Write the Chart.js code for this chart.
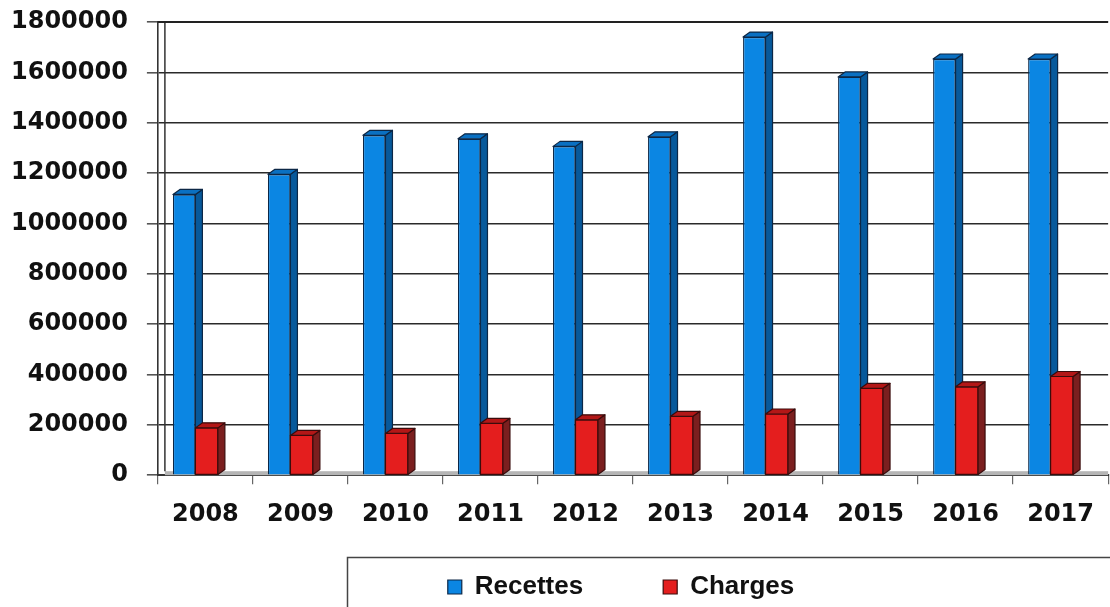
<!DOCTYPE html>
<html>
<head>
<meta charset="utf-8">
<script src="https://cdn.jsdelivr.net/npm/chart.js@4/dist/chart.umd.min.js"></script>
<style>
html,body{margin:0;padding:0;background:#fff;}
#wrap{width:1110px;height:607px;position:relative;}
</style>
</head>
<body>
<div id="wrap"><canvas id="c" width="1110" height="607"></canvas></div>
<script>
// ---- data ----
const categories = ['2008','2009','2010','2011','2012','2013','2014','2015','2016','2017'];
const recettes   = [1115000,1195000,1350000,1336000,1306000,1344000,1740000,1582000,1653000,1653000];
const charges    = [188000,158000,166000,206000,220000,234000,243000,345000,351000,392000];
const yTicks     = [0,200000,400000,600000,800000,1000000,1200000,1400000,1600000,1800000];
const seriesNames = ['Recettes','Charges'];

// ---- styles ----
const BLUE = {front:'#0b86e3', side:'#07599b', top:'#0a70c2', border:'#0c2746'};
const RED  = {front:'#e41e1e', side:'#7b1f1f', top:'#b31717', border:'#3a0c0c'};
const DX = 7, DY = 5, SHIFT_X = -10;
const LEG_PAD = 80;

const wall = {
  id:'wall',
  beforeDatasetsDraw(chart){
    const {ctx, chartArea:a} = chart;
    ctx.save();
    ctx.fillStyle = '#b5b5b5';
    ctx.fillRect(a.left+DX, a.bottom-4, a.right-a.left-DX, 4);
    ctx.strokeStyle = '#333';
    ctx.lineWidth = 1.5;
    ctx.beginPath();
    ctx.moveTo(a.left+DX, a.top-1);
    ctx.lineTo(a.left+DX, a.bottom-4);
    ctx.stroke();
    // heavier top edge of the back wall
    ctx.strokeStyle = '#222';
    ctx.lineWidth = 2.2;
    ctx.beginPath();
    ctx.moveTo(a.left, a.top);
    ctx.lineTo(a.right, a.top);
    ctx.stroke();
    ctx.restore();
  }
};

function faces(ctx, p, c, withFront){
  const l = p.x - p.width/2, r = p.x + p.width/2;
  ctx.save();
  ctx.lineWidth = 1.2;
  ctx.lineJoin = 'round';
  ctx.strokeStyle = c.border;
  if (withFront){
    ctx.fillStyle = c.front;
    ctx.fillRect(l, p.y, p.width, p.base - p.y);
    ctx.strokeRect(l, p.y, p.width, p.base - p.y);
  }
  ctx.beginPath();
  ctx.moveTo(r,p.y); ctx.lineTo(r+DX,p.y-DY); ctx.lineTo(r+DX,p.base-DY); ctx.lineTo(r,p.base); ctx.closePath();
  ctx.fillStyle = c.side; ctx.fill(); ctx.stroke();
  ctx.beginPath();
  ctx.moveTo(l,p.y); ctx.lineTo(l+DX,p.y-DY); ctx.lineTo(r+DX,p.y-DY); ctx.lineTo(r,p.y); ctx.closePath();
  ctx.fillStyle = c.top; ctx.fill(); ctx.stroke();
  ctx.restore();
}

const bar3d = {
  id:'bar3d',
  beforeDatasetsDraw(chart){ chart.ctx.save(); chart.ctx.translate(SHIFT_X,0); },
  afterDatasetDraw(chart,args){
    if (args.index !== 0) return; // red is drawn first, blue last
    const ctx = chart.ctx;
    const redMeta = chart.getDatasetMeta(1);
    args.meta.data.forEach((el,i)=>{
      faces(ctx, el.getProps(['x','y','base','width'], true), BLUE, false);
      const rel = redMeta.data[i];
      if (rel) faces(ctx, rel.getProps(['x','y','base','width'], true), RED, true);
    });
  },
  afterDatasetsDraw(chart){ chart.ctx.restore(); }
};

const legendShift = {
  id:'legendShift',
  afterLayout(chart){
    const lg = chart.legend;
    if (!lg) return;
    lg.left += 70; lg.right += 70;
    lg.top = 574 - LEG_PAD;
  },
  afterDraw(chart){
    const ctx = chart.ctx;
    ctx.save();
    ctx.strokeStyle = '#444';
    ctx.lineWidth = 1.5;
    ctx.strokeRect(347.5, 557.5, 800, 80);
    ctx.restore();
  }
};

new Chart(document.getElementById('c'), {
  type:'bar',
  data:{
    labels: categories,
    datasets:[
      {label:seriesNames[0], data:recettes, backgroundColor:BLUE.front, borderColor:BLUE.border, borderWidth:1.2,
       categoryPercentage:0.473, barPercentage:1.0},
      {label:seriesNames[1], data:charges, backgroundColor:RED.front, borderColor:RED.border, borderWidth:1.2,
       categoryPercentage:0.473, barPercentage:1.0}
    ]
  },
  options:{
    responsive:false,
    devicePixelRatio:1,
    animation:false,
    layout:{padding:{left:-8,right:0,top:0,bottom:0}},
    plugins:{
      tooltip:{enabled:false},
      legend:{
        position:'bottom',
        maxHeight:62,
        labels:{
          boxWidth:14, boxHeight:14, padding:LEG_PAD,
          color:'#111',
          font:{family:"'Liberation Sans',Arial,sans-serif", weight:'bold', size:26}
        }
      }
    },
    scales:{
      x:{
        offset:true,
        grid:{display:true, drawOnChartArea:false, offset:true, tickLength:9, color:'#666', lineWidth:1.2},
        border:{display:true, color:'#333', width:2},
        ticks:{padding:16, color:'#111', font:{family:"'DejaVu Sans',sans-serif", weight:'bold', size:24}}
      },
      y:{
        min:0, max:1800000,
        afterBuildTicks:(axis)=>{ axis.ticks = yTicks.map(v=>({value:v})); },
        afterFit:(axis)=>{ axis.paddingTop = 22; },
        grid:{color:'#2a2a2a', lineWidth:1.6, tickLength:11, tickColor:'#555'},
        border:{display:true, color:'#333', width:1.6},
        ticks:{padding:19, color:'#111', font:{family:"'DejaVu Sans',sans-serif", weight:'bold', size:24},
               callback:(v)=>String(v)}
      }
    }
  },
  plugins:[wall, bar3d, legendShift]
});
</script>
</body>
</html>
